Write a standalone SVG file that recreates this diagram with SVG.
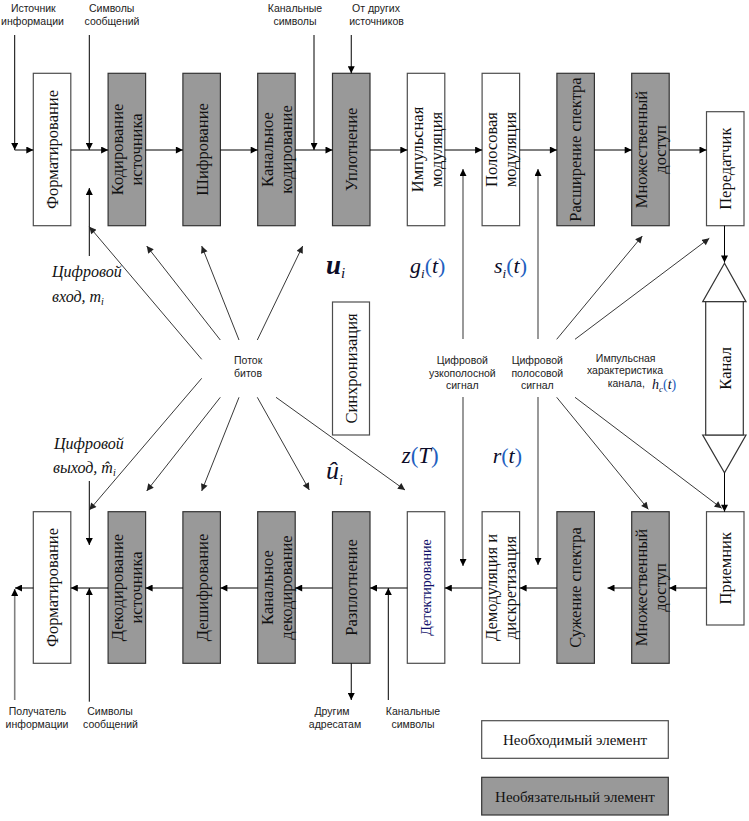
<svg xmlns="http://www.w3.org/2000/svg" width="749" height="821" viewBox="0 0 749 821">
<style>
  .req { fill: #ffffff; stroke: #4d4d4d; stroke-width: 1.2; }
  .opt { fill: #999999; stroke: #333333; stroke-width: 1.2; }
  .bl { font-family: "Liberation Serif", "Times New Roman", serif; font-size: 16.5px; fill: #111; text-anchor: middle; }
  .sl { font-family: "Liberation Sans", Arial, sans-serif; font-size: 10.5px; fill: #222; text-anchor: middle; }
  .it { font-family: "Liberation Serif", "Times New Roman", serif; font-style: italic; fill: #111; }
  .mv { font-family: "Liberation Serif", "Times New Roman", serif; font-style: italic; fill: #0c0c28; }
  .par { fill: #1f5fbf; font-style: normal; }
  .ln { stroke: #000; stroke-width: 1; fill: none; }
  .dg { stroke: #222; stroke-width: 0.9; fill: none; }
  .gl { stroke: #808080; stroke-width: 1.6; fill: none; }
  .ch { fill: #ffffff; stroke: #333; stroke-width: 1.2; }
</style>
<defs>
  <marker id="ah" viewBox="0 0 10 10" refX="10" refY="5" markerWidth="8" markerHeight="7" markerUnits="userSpaceOnUse" orient="auto">
    <path d="M0,0 L10,5 L0,10 z" fill="#000"/>
  </marker>
  <marker id="ahg" viewBox="0 0 10 10" refX="10" refY="5" markerWidth="8" markerHeight="7" markerUnits="userSpaceOnUse" orient="auto">
    <path d="M0,0 L10,5 L0,10 z" fill="#222"/>
  </marker>
</defs>

<!-- Top row (transmitter chain) -->
<g id="n-format-tx"><rect class="req" x="33.3" y="73.3" width="37.5" height="152.4"/>
  <text class="bl" transform="translate(52.05,149.5) rotate(-90)"><tspan x="0" y="6">Форматирование</tspan></text></g>
<g id="n-source-coding"><rect class="opt" x="108.1" y="73.3" width="37.5" height="152.4"/>
  <text class="bl" transform="translate(126.85,149.5) rotate(-90)"><tspan x="0" y="-4">Кодирование</tspan><tspan x="0" y="15">источника</tspan></text></g>
<g id="n-encryption"><rect class="opt" x="182.9" y="73.3" width="37.5" height="152.4"/>
  <text class="bl" transform="translate(201.65,149.5) rotate(-90)"><tspan x="0" y="6">Шифрование</tspan></text></g>
<g id="n-channel-coding"><rect class="opt" x="257.7" y="73.3" width="37.5" height="152.4"/>
  <text class="bl" transform="translate(276.45,149.5) rotate(-90)"><tspan x="0" y="-3.5">Канальное</tspan><tspan x="0" y="15.5">кодирование</tspan></text></g>
<g id="n-multiplexing"><rect class="opt" x="332.5" y="73.3" width="37.5" height="152.4"/>
  <text class="bl" transform="translate(351.25,149.5) rotate(-90)"><tspan x="0" y="6">Уплотнение</tspan></text></g>
<g id="n-pulse-mod"><rect class="req" x="407.3" y="73.3" width="37.5" height="152.4"/>
  <text class="bl" transform="translate(426.05,149.5) rotate(-90)"><tspan x="0" y="-3.5">Импульсная</tspan><tspan x="0" y="15.5">модуляция</tspan></text></g>
<g id="n-bandpass-mod"><rect class="req" x="482.1" y="73.3" width="37.5" height="152.4"/>
  <text class="bl" transform="translate(500.85,149.5) rotate(-90)"><tspan x="0" y="-3.5">Полосовая</tspan><tspan x="0" y="15.5">модуляция</tspan></text></g>
<g id="n-spread"><rect class="opt" x="556.9" y="73.3" width="37.5" height="152.4"/>
  <text class="bl" transform="translate(575.65,149.5) rotate(-90)"><tspan x="0" y="5">Расширение спектра</tspan></text></g>
<g id="n-multiple-access-tx"><rect class="opt" x="631.7" y="73.3" width="37.5" height="152.4"/>
  <text class="bl" transform="translate(650.45,149.5) rotate(-90)"><tspan x="0" y="-3.5">Множественный</tspan><tspan x="0" y="15.5">доступ</tspan></text></g>
<g id="n-transmitter"><rect class="req" x="706.5" y="111.7" width="37.5" height="114"/>
  <text class="bl" transform="translate(725.25,168.7) rotate(-90)"><tspan x="0" y="6">Передатчик</tspan></text></g>

<!-- Bottom row (receiver chain) -->
<g id="n-format-rx"><rect class="req" x="33.3" y="511.7" width="37.5" height="151.6"/>
  <text class="bl" transform="translate(52.05,587.5) rotate(-90)"><tspan x="0" y="6">Форматирование</tspan></text></g>
<g id="n-source-decoding"><rect class="opt" x="108.1" y="511.7" width="37.5" height="151.6"/>
  <text class="bl" transform="translate(126.85,587.5) rotate(-90)"><tspan x="0" y="-4">Декодирование</tspan><tspan x="0" y="15">источника</tspan></text></g>
<g id="n-decryption"><rect class="opt" x="182.9" y="511.7" width="37.5" height="151.6"/>
  <text class="bl" transform="translate(201.65,587.5) rotate(-90)"><tspan x="0" y="6">Дешифрование</tspan></text></g>
<g id="n-channel-decoding"><rect class="opt" x="257.7" y="511.7" width="37.5" height="151.6"/>
  <text class="bl" transform="translate(276.45,587.5) rotate(-90)"><tspan x="0" y="-3.5">Канальное</tspan><tspan x="0" y="15.5">декодирование</tspan></text></g>
<g id="n-demultiplexing"><rect class="opt" x="332.5" y="511.7" width="37.5" height="151.6"/>
  <text class="bl" transform="translate(351.25,587.5) rotate(-90)"><tspan x="0" y="6">Разплотнение</tspan></text></g>
<g id="n-detection"><rect class="req" x="407.3" y="511.7" width="37.5" height="151.6"/>
  <text class="bl" style="font-size:14px;fill:#10106a" transform="translate(426.05,587.5) rotate(-90)"><tspan x="0" y="5">Детектирование</tspan></text></g>
<g id="n-demod"><rect class="req" x="482.1" y="511.7" width="37.5" height="151.6"/>
  <text class="bl" transform="translate(500.85,587.5) rotate(-90)"><tspan x="0" y="-4">Демодуляция и</tspan><tspan x="0" y="15.5">дискретизация</tspan></text></g>
<g id="n-despread"><rect class="opt" x="556.9" y="511.7" width="37.5" height="151.6"/>
  <text class="bl" transform="translate(575.65,587.5) rotate(-90)"><tspan x="0" y="5">Сужение спектра</tspan></text></g>
<g id="n-multiple-access-rx"><rect class="opt" x="631.7" y="511.7" width="37.5" height="151.6"/>
  <text class="bl" transform="translate(650.45,587.5) rotate(-90)"><tspan x="0" y="-3.5">Множественный</tspan><tspan x="0" y="15.5">доступ</tspan></text></g>
<g id="n-receiver"><rect class="req" x="706.5" y="511.7" width="37.5" height="113.3"/>
  <text class="bl" transform="translate(725.25,568.3) rotate(-90)"><tspan x="0" y="6">Приемник</tspan></text></g>

<!-- Synchronization -->
<g id="n-sync"><rect class="req" x="332.5" y="302" width="37" height="133"/>
  <text class="bl" transform="translate(351,368.5) rotate(-90)"><tspan x="0" y="6">Синхронизация</tspan></text></g>

<!-- Channel -->
<g id="n-channel">
  <polygon class="ch" points="724.5,263.3 702.7,301.7 746,301.7"/>
  <polygon class="ch" points="702.7,435 746,435 724.5,472.7"/>
  <rect class="ch" x="705.7" y="301.7" width="37.6" height="133.3"/>
  <text class="bl" transform="translate(724.5,368.3) rotate(-90)"><tspan x="0" y="6">Канал</tspan></text>
</g>

<!-- Legend -->
<g id="n-legend-required"><rect class="req" x="481.7" y="720.7" width="186.6" height="37.6"/>
  <text class="bl" style="font-size:15px" x="575" y="745">Необходимый элемент</text></g>
<g id="n-legend-optional"><rect class="opt" x="481.7" y="777.3" width="186.6" height="37.7"/>
  <text class="bl" style="font-size:15px" x="575" y="801.7">Необязательный элемент</text></g>

<!-- Connectors -->
<g id="connectors">
  <!-- top main chain -->
  <line class="ln" x1="14.7" y1="150" x2="33.3" y2="150" marker-end="url(#ah)"/>
  <line class="ln" x1="70.8" y1="150" x2="108.1" y2="150" marker-end="url(#ah)"/>
  <line class="ln" x1="145.6" y1="150" x2="182.9" y2="150" marker-end="url(#ah)"/>
  <line class="ln" x1="220.4" y1="150" x2="257.7" y2="150" marker-end="url(#ah)"/>
  <line class="ln" x1="295.2" y1="150" x2="332.5" y2="150" marker-end="url(#ah)"/>
  <line class="ln" x1="370" y1="150" x2="407.3" y2="150" marker-end="url(#ah)"/>
  <line class="ln" x1="444.8" y1="150" x2="482.1" y2="150" marker-end="url(#ah)"/>
  <line class="ln" x1="519.6" y1="150" x2="556.9" y2="150" marker-end="url(#ah)"/>
  <line class="ln" x1="594.4" y1="150" x2="631.7" y2="150" marker-end="url(#ah)"/>
  <line class="ln" x1="669.2" y1="150" x2="706.5" y2="150" marker-end="url(#ah)"/>
  <!-- top inputs -->
  <line class="ln" x1="14.7" y1="35" x2="14.7" y2="150" marker-end="url(#ah)"/>
  <line class="ln" x1="89.3" y1="35" x2="89.3" y2="150" marker-end="url(#ah)"/>
  <line class="ln" x1="314" y1="35" x2="314" y2="150" marker-end="url(#ah)"/>
  <line class="ln" x1="351.25" y1="35" x2="351.25" y2="73.3" marker-end="url(#ah)"/>
  <line class="ln" x1="89.3" y1="256" x2="89.3" y2="188" marker-end="url(#ah)"/>
  <line class="gl" x1="463" y1="339" x2="463" y2="169" marker-end="url(#ah)"/>
  <line class="gl" x1="538" y1="339" x2="538" y2="169" marker-end="url(#ah)"/>
  <!-- transmitter to channel to receiver -->
  <line class="ln" x1="724.5" y1="225.7" x2="724.5" y2="262.5" marker-end="url(#ah)"/>
  <line class="ln" x1="724.5" y1="472.7" x2="724.5" y2="511.7" marker-end="url(#ah)"/>
  <!-- bottom main chain -->
  <line class="ln" x1="706.5" y1="588" x2="669.2" y2="588" marker-end="url(#ah)"/>
  <line class="ln" x1="631.7" y1="588" x2="607.5" y2="588" marker-end="url(#ah)"/>
  <line class="ln" x1="556.9" y1="588" x2="519.6" y2="588" marker-end="url(#ah)"/>
  <line class="ln" x1="482.1" y1="588" x2="444.8" y2="588" marker-end="url(#ah)"/>
  <line class="ln" x1="407.3" y1="588" x2="370" y2="588" marker-end="url(#ah)"/>
  <line class="ln" x1="332.5" y1="588" x2="295.2" y2="588" marker-end="url(#ah)"/>
  <line class="ln" x1="257.7" y1="588" x2="220.4" y2="588" marker-end="url(#ah)"/>
  <line class="ln" x1="182.9" y1="588" x2="145.6" y2="588" marker-end="url(#ah)"/>
  <line class="ln" x1="108.1" y1="588" x2="70.8" y2="588" marker-end="url(#ah)"/>
  <line class="ln" x1="33.3" y1="588" x2="15" y2="588" marker-end="url(#ah)"/>
  <!-- bottom verticals -->
  <line class="ln" x1="89.3" y1="701.7" x2="89.3" y2="588" marker-end="url(#ah)"/>
  <line class="ln" x1="388.3" y1="700" x2="388.3" y2="588" marker-end="url(#ah)"/>
  <line class="ln" x1="351.25" y1="663.3" x2="351.25" y2="700" marker-end="url(#ah)"/>
  <line class="gl" x1="14.7" y1="700" x2="14.7" y2="589" marker-end="url(#ah)"/>
  <line class="ln" x1="89.3" y1="481" x2="89.3" y2="545" marker-end="url(#ah)"/>
  <line class="gl" x1="463" y1="397" x2="463" y2="566" marker-end="url(#ah)"/>
  <line class="gl" x1="538" y1="397" x2="538" y2="565" marker-end="url(#ah)"/>
  <!-- bit stream diagonals -->
  <line class="dg" x1="201.7" y1="359.3" x2="89.3" y2="226.7" marker-end="url(#ahg)"/>
  <line class="dg" x1="220.3" y1="340" x2="146.7" y2="246" marker-end="url(#ahg)"/>
  <line class="dg" x1="239" y1="340" x2="201.7" y2="246" marker-end="url(#ahg)"/>
  <line class="dg" x1="257.3" y1="340" x2="302.7" y2="246" marker-end="url(#ahg)"/>
  <line class="dg" x1="201.7" y1="378.3" x2="89.3" y2="510" marker-end="url(#ahg)"/>
  <line class="dg" x1="220.3" y1="397.3" x2="146.7" y2="491" marker-end="url(#ahg)"/>
  <line class="dg" x1="239" y1="397.3" x2="201.7" y2="491" marker-end="url(#ahg)"/>
  <line class="dg" x1="257.3" y1="397.3" x2="309.3" y2="490" marker-end="url(#ahg)"/>
  <line class="dg" x1="276" y1="397.3" x2="405" y2="490" marker-end="url(#ahg)"/>
  <!-- bandpass signal diagonals -->
  <line class="dg" x1="556.7" y1="339.3" x2="642.3" y2="236" marker-end="url(#ahg)"/>
  <line class="dg" x1="575" y1="339.3" x2="709.3" y2="238.3" marker-end="url(#ahg)"/>
  <line class="dg" x1="556.7" y1="397.3" x2="648.3" y2="509.3" marker-end="url(#ahg)"/>
  <line class="dg" x1="575" y1="397.3" x2="721.7" y2="508.3" marker-end="url(#ahg)"/>
</g>

<!-- Labels -->
<g id="labels">
  <text class="sl" x="33.3" y="12">Источник</text>
  <text class="sl" x="32.5" y="25">информации</text>
  <text class="sl" x="111.7" y="12">Символы</text>
  <text class="sl" x="112" y="25">сообщений</text>
  <text class="sl" x="295" y="12">Канальные</text>
  <text class="sl" x="295" y="25">символы</text>
  <text class="sl" x="376" y="12">От других</text>
  <text class="sl" x="376.5" y="25">источников</text>

  <text class="sl" x="37.5" y="715">Получатель</text>
  <text class="sl" x="37" y="728.3">информации</text>
  <text class="sl" x="110" y="715">Символы</text>
  <text class="sl" x="110.5" y="728.3">сообщений</text>
  <text class="sl" x="332" y="715">Другим</text>
  <text class="sl" x="335" y="728.3">адресатам</text>
  <text class="sl" x="413" y="715">Канальные</text>
  <text class="sl" x="413" y="728.3">символы</text>

  <text class="sl" style="text-anchor:start" x="234" y="364">Поток</text>
  <text class="sl" style="text-anchor:start" x="234" y="376.7">битов</text>

  <text class="sl" x="462.3" y="364">Цифровой</text>
  <text class="sl" x="462.3" y="376.7">узкополосной</text>
  <text class="sl" x="462.3" y="389">сигнал</text>
  <text class="sl" x="537.3" y="364">Цифровой</text>
  <text class="sl" x="537.3" y="376.7">полосовой</text>
  <text class="sl" x="537.3" y="389">сигнал</text>

  <text class="sl" x="625.7" y="361.7">Импульсная</text>
  <text class="sl" x="625" y="373.8">характеристика</text>
  <text class="sl" style="text-anchor:start" x="607.7" y="387.3">канала,</text>
  <text class="mv" x="652" y="388.5" font-size="14">h<tspan font-size="9" dy="3">c</tspan><tspan class="par" dy="-3">(</tspan>t<tspan class="par">)</tspan></text>

  <text class="it" x="52" y="277.3" font-size="16">Цифровой</text>
  <text class="it" x="52" y="301.7" font-size="16">вход, m<tspan font-size="10" dy="3">i</tspan></text>
  <text class="it" x="54" y="449.3" font-size="16">Цифровой</text>
  <text class="it" x="53" y="472.7" font-size="16">выход, m&#770;<tspan font-size="10" dy="3">i</tspan></text>

  <text class="mv" x="326" y="274" font-size="27" font-weight="bold">u<tspan font-size="15" font-weight="normal" dy="4">i</tspan></text>
  <text class="mv" x="410" y="273" font-size="22">g<tspan font-size="13" dy="5">i</tspan><tspan class="par" dy="-5">(</tspan>t<tspan class="par">)</tspan></text>
  <text class="mv" x="494" y="273" font-size="22">s<tspan font-size="13" dy="5">i</tspan><tspan class="par" dy="-5">(</tspan>t<tspan class="par">)</tspan></text>
  <text class="mv" x="401.7" y="463.3" font-size="23">z<tspan class="par">(</tspan>T<tspan class="par">)</tspan></text>
  <text class="mv" x="492.7" y="463" font-size="22">r<tspan class="par">(</tspan>t<tspan class="par">)</tspan></text>
  <text class="mv" x="326" y="479" font-size="26">û<tspan font-size="14" dy="6">i</tspan></text>
</g>
</svg>
